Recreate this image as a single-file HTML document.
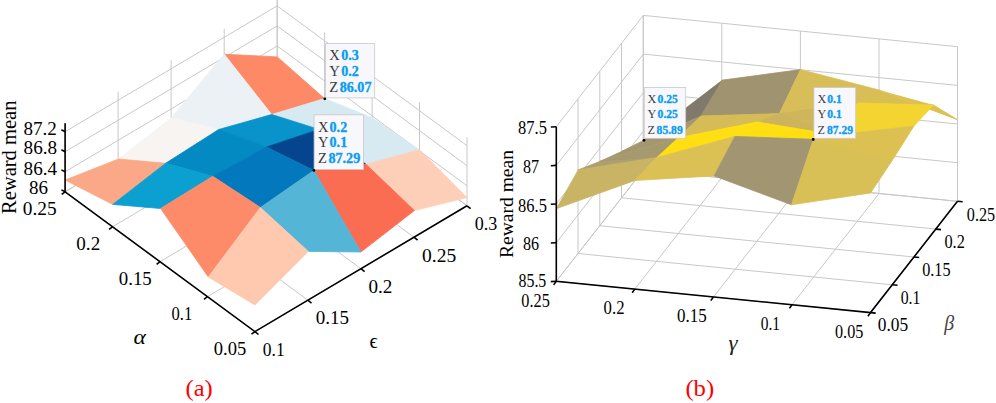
<!DOCTYPE html>
<html><head><meta charset="utf-8"><style>
html,body{margin:0;padding:0;background:#fff;}
svg{display:block;}
text{font-family:"Liberation Serif",serif;fill-opacity:1;}
</style></head><body>
<svg width="996" height="403" viewBox="0 0 996 403">
<rect width="996" height="403" fill="#fff"/>
<g stroke="#c8c8c8" stroke-width="1.0" fill="none">
<line x1="65.1" y1="191.8" x2="65.1" y2="123.2"/>
<line x1="467.0" y1="205.8" x2="467.0" y2="137.2"/>
<line x1="118.1" y1="160.4" x2="118.1" y2="91.7"/>
<line x1="419.5" y1="170.9" x2="419.5" y2="102.2"/>
<line x1="171.1" y1="128.9" x2="171.1" y2="60.3"/>
<line x1="372.1" y1="135.9" x2="372.1" y2="67.3"/>
<line x1="224.2" y1="97.5" x2="224.2" y2="28.8"/>
<line x1="324.6" y1="100.9" x2="324.6" y2="32.3"/>
<line x1="277.2" y1="66.0" x2="277.2" y2="-2.6"/>
<line x1="277.2" y1="66.0" x2="277.2" y2="-2.6"/>
<line x1="65.1" y1="191.8" x2="277.2" y2="66.0"/>
<line x1="277.2" y1="66.0" x2="467.0" y2="205.8"/>
<line x1="65.1" y1="171.8" x2="277.2" y2="46.0"/>
<line x1="277.2" y1="46.0" x2="467.0" y2="185.8"/>
<line x1="65.1" y1="151.7" x2="277.2" y2="25.9"/>
<line x1="277.2" y1="25.9" x2="467.0" y2="165.7"/>
<line x1="65.1" y1="131.7" x2="277.2" y2="5.9"/>
<line x1="277.2" y1="5.9" x2="467.0" y2="145.7"/>
<line x1="254.9" y1="331.6" x2="467.0" y2="205.8"/>
<line x1="254.9" y1="331.6" x2="65.1" y2="191.8"/>
<line x1="207.4" y1="296.7" x2="419.5" y2="170.9"/>
<line x1="307.9" y1="300.2" x2="118.1" y2="160.4"/>
<line x1="160.0" y1="261.7" x2="372.1" y2="135.9"/>
<line x1="360.9" y1="268.7" x2="171.1" y2="128.9"/>
<line x1="112.5" y1="226.8" x2="324.6" y2="100.9"/>
<line x1="414.0" y1="237.2" x2="224.2" y2="97.5"/>
<line x1="65.1" y1="191.8" x2="277.2" y2="66.0"/>
<line x1="467.0" y1="205.8" x2="277.2" y2="66.0"/>
</g>
<g stroke-linejoin="round">
<polygon points="271.7,114.5 324.6,98.6 277.3,56.9 224.2,54.2" fill="#fe8967" stroke="#fe8967" stroke-width="0.8"/>
<polygon points="218.7,129.5 271.7,114.5 224.2,54.2 171.3,118.0" fill="#ebf1f4" stroke="#ebf1f4" stroke-width="0.8"/>
<polygon points="319.2,129.4 372.4,118.0 324.6,98.6 271.7,114.5" fill="#d7e9f1" stroke="#d7e9f1" stroke-width="0.8"/>
<polygon points="165.6,163.3 218.7,129.5 171.3,118.0 118.5,159.0" fill="#f7f4f2" stroke="#f7f4f2" stroke-width="0.8"/>
<polygon points="266.5,147.0 319.2,129.4 271.7,114.5 218.7,129.5" fill="#0893cb" stroke="#0893cb" stroke-width="0.8"/>
<polygon points="366.0,164.3 419.5,149.8 372.4,118.0 319.2,129.4" fill="#d7e9f1" stroke="#d7e9f1" stroke-width="0.8"/>
<polygon points="112.7,204.4 165.6,163.3 118.5,159.0 65.1,180.0" fill="#fba888" stroke="#fba888" stroke-width="0.8"/>
<polygon points="212.8,176.3 266.5,147.0 218.7,129.5 165.6,163.3" fill="#038ac2" stroke="#038ac2" stroke-width="0.8"/>
<polygon points="313.9,170.4 366.0,164.3 319.2,129.4 266.5,147.0" fill="#05458d" stroke="#05458d" stroke-width="0.8"/>
<polygon points="414.4,210.5 467.0,197.6 419.5,149.8 366.0,164.3" fill="#fecfb8" stroke="#fecfb8" stroke-width="0.8"/>
<polygon points="160.6,208.5 212.8,176.3 165.6,163.3 112.7,204.4" fill="#0ca0d0" stroke="#0ca0d0" stroke-width="0.8"/>
<polygon points="260.4,207.5 313.9,170.4 266.5,147.0 212.8,176.3" fill="#0478bc" stroke="#0478bc" stroke-width="0.8"/>
<polygon points="360.9,252.0 414.4,210.5 366.0,164.3 313.9,170.4" fill="#fa6d52" stroke="#fa6d52" stroke-width="0.8"/>
<polygon points="208.3,276.9 260.4,207.5 212.8,176.3 160.6,208.5" fill="#fd8a69" stroke="#fd8a69" stroke-width="0.8"/>
<polygon points="308.3,251.4 360.9,252.0 313.9,170.4 260.4,207.5" fill="#54b5d6" stroke="#54b5d6" stroke-width="0.8"/>
<polygon points="254.9,304.9 308.3,251.4 260.4,207.5 208.3,276.9" fill="#fec9ae" stroke="#fec9ae" stroke-width="0.8"/>
</g>
<polyline points="65.1,123.2 65.1,191.8 254.9,331.6 467.0,205.8" stroke="#000" stroke-width="1.6" fill="none" stroke-linecap="butt"/>
<line x1="65.1" y1="191.8" x2="61.4" y2="189.9" stroke="#000" stroke-width="1.6" fill="none" stroke-linecap="butt"/>
<line x1="65.1" y1="171.8" x2="61.4" y2="169.9" stroke="#000" stroke-width="1.6" fill="none" stroke-linecap="butt"/>
<line x1="65.1" y1="151.7" x2="61.4" y2="149.8" stroke="#000" stroke-width="1.6" fill="none" stroke-linecap="butt"/>
<line x1="65.1" y1="131.7" x2="61.4" y2="129.8" stroke="#000" stroke-width="1.6" fill="none" stroke-linecap="butt"/>
<line x1="254.9" y1="331.6" x2="251.5" y2="334.2" stroke="#000" stroke-width="1.6" fill="none" stroke-linecap="butt"/>
<line x1="207.4" y1="296.7" x2="204.0" y2="299.3" stroke="#000" stroke-width="1.6" fill="none" stroke-linecap="butt"/>
<line x1="160.0" y1="261.7" x2="156.6" y2="264.3" stroke="#000" stroke-width="1.6" fill="none" stroke-linecap="butt"/>
<line x1="112.5" y1="226.8" x2="109.1" y2="229.3" stroke="#000" stroke-width="1.6" fill="none" stroke-linecap="butt"/>
<line x1="65.1" y1="191.8" x2="61.7" y2="194.4" stroke="#000" stroke-width="1.6" fill="none" stroke-linecap="butt"/>
<line x1="254.9" y1="331.6" x2="258.5" y2="334.5" stroke="#000" stroke-width="1.6" fill="none" stroke-linecap="butt"/>
<line x1="307.9" y1="300.2" x2="311.5" y2="303.1" stroke="#000" stroke-width="1.6" fill="none" stroke-linecap="butt"/>
<line x1="360.9" y1="268.7" x2="364.6" y2="271.6" stroke="#000" stroke-width="1.6" fill="none" stroke-linecap="butt"/>
<line x1="414.0" y1="237.2" x2="417.6" y2="240.2" stroke="#000" stroke-width="1.6" fill="none" stroke-linecap="butt"/>
<line x1="467.0" y1="205.8" x2="470.6" y2="208.7" stroke="#000" stroke-width="1.6" fill="none" stroke-linecap="butt"/>
<text x="23.5" y="134.8" font-size="19.5" textLength="33.4" lengthAdjust="spacingAndGlyphs" >87.2</text>
<text x="23.6" y="154.4" font-size="19.5" textLength="33.5" lengthAdjust="spacingAndGlyphs" >86.8</text>
<text x="23.6" y="174.5" font-size="19.5" textLength="33.5" lengthAdjust="spacingAndGlyphs" >86.4</text>
<text x="29.1" y="194.0" font-size="19.5" textLength="19.0" lengthAdjust="spacingAndGlyphs" >86</text>
<text x="22.8" y="215.1" font-size="19.5" textLength="33.9" lengthAdjust="spacingAndGlyphs" >0.25</text>
<text x="76.3" y="250.3" font-size="19.5" textLength="23.9" lengthAdjust="spacingAndGlyphs" >0.2</text>
<text x="118.8" y="285.0" font-size="19.5" textLength="33.0" lengthAdjust="spacingAndGlyphs" >0.15</text>
<text x="171.5" y="319.6" font-size="19.5" textLength="20.7" lengthAdjust="spacingAndGlyphs" >0.1</text>
<text x="213.8" y="354.7" font-size="19.5" textLength="32.5" lengthAdjust="spacingAndGlyphs" >0.05</text>
<text x="262.8" y="355.5" font-size="19.5" textLength="21.9" lengthAdjust="spacingAndGlyphs" >0.1</text>
<text x="315.7" y="324.2" font-size="19.5" textLength="33.3" lengthAdjust="spacingAndGlyphs" >0.15</text>
<text x="368.4" y="293.3" font-size="19.5" textLength="23.9" lengthAdjust="spacingAndGlyphs" >0.2</text>
<text x="422.0" y="261.8" font-size="19.5" textLength="34.2" lengthAdjust="spacingAndGlyphs" >0.25</text>
<text x="474.8" y="229.8" font-size="19.5" textLength="22.6" lengthAdjust="spacingAndGlyphs" >0.3</text>
<text x="0" y="343.6" font-size="20" font-style="italic" transform="translate(133.4,0) scale(1.18,1)">&#x3b1;</text>
<text x="369.5" y="347.6" font-size="20">&#x3f5;</text>
<text transform="translate(15.5,214) rotate(-90)" font-size="20" textLength="113.5" lengthAdjust="spacingAndGlyphs">Reward mean</text>
<text x="185.6" y="396.0" font-size="23.8" fill="#ff0000" textLength="27.2" lengthAdjust="spacingAndGlyphs">(a)</text>
<g stroke="#c8c8c8" stroke-width="1.0" fill="none">
<line x1="556.3" y1="281.3" x2="556.3" y2="126.7"/>
<line x1="957.5" y1="201.3" x2="957.5" y2="46.7"/>
<line x1="578.0" y1="253.5" x2="578.0" y2="98.9"/>
<line x1="879.0" y1="193.5" x2="879.0" y2="38.9"/>
<line x1="599.8" y1="225.7" x2="599.8" y2="71.1"/>
<line x1="800.4" y1="185.7" x2="800.4" y2="31.1"/>
<line x1="621.5" y1="197.8" x2="621.5" y2="43.2"/>
<line x1="721.8" y1="177.8" x2="721.8" y2="23.2"/>
<line x1="643.3" y1="170.0" x2="643.3" y2="15.4"/>
<line x1="643.3" y1="170.0" x2="643.3" y2="15.4"/>
<line x1="556.3" y1="281.3" x2="643.3" y2="170.0"/>
<line x1="643.3" y1="170.0" x2="957.5" y2="201.3"/>
<line x1="556.3" y1="242.7" x2="643.3" y2="131.3"/>
<line x1="643.3" y1="131.3" x2="957.5" y2="162.7"/>
<line x1="556.3" y1="204.0" x2="643.3" y2="92.7"/>
<line x1="643.3" y1="92.7" x2="957.5" y2="124.0"/>
<line x1="556.3" y1="165.4" x2="643.3" y2="54.1"/>
<line x1="643.3" y1="54.1" x2="957.5" y2="85.4"/>
<line x1="556.3" y1="126.7" x2="643.3" y2="15.4"/>
<line x1="643.3" y1="15.4" x2="957.5" y2="46.7"/>
<line x1="870.5" y1="312.6" x2="957.5" y2="201.3"/>
<line x1="870.5" y1="312.6" x2="556.3" y2="281.3"/>
<line x1="792.0" y1="304.8" x2="879.0" y2="193.5"/>
<line x1="892.2" y1="284.8" x2="578.0" y2="253.5"/>
<line x1="713.4" y1="297.0" x2="800.4" y2="185.7"/>
<line x1="914.0" y1="257.0" x2="599.8" y2="225.7"/>
<line x1="634.8" y1="289.1" x2="721.8" y2="177.8"/>
<line x1="935.8" y1="229.1" x2="621.5" y2="197.8"/>
<line x1="556.3" y1="281.3" x2="643.3" y2="170.0"/>
<line x1="957.5" y1="201.3" x2="643.3" y2="170.0"/>
</g>
<g stroke-linejoin="round">
<polygon points="701.0,116.0 722.5,80.1 643.8,140.2 621.5,151.6" fill="#a89b70" stroke="#a89b70" stroke-width="0.8"/>
<polygon points="701.0,116.0 722.5,80.1 643.8,140.2" fill="#7f7a6b"/>
<polygon points="678.3,137.8 701.0,116.0 621.5,151.6 599.8,161.4" fill="#a49770" stroke="#a49770" stroke-width="0.8"/>
<polygon points="779.4,113.6 800.5,69.6 722.5,80.1 701.0,116.0" fill="#a09470" stroke="#a09470" stroke-width="0.8"/>
<polygon points="656.8,157.5 678.3,137.8 599.8,161.4 578.2,169.9" fill="#ada06f" stroke="#ada06f" stroke-width="0.8"/>
<polygon points="656.8,157.5 678.3,137.8 599.8,161.4" fill="#a69970"/>
<polygon points="757.3,122.0 779.4,113.6 701.0,116.0 678.3,137.8" fill="#d6bc56" stroke="#d6bc56" stroke-width="0.8"/>
<polygon points="857.2,103.0 879.0,90.0 800.5,69.6 779.4,113.6" fill="#d8be58" stroke="#d8be58" stroke-width="0.8"/>
<polygon points="634.8,180.5 656.8,157.5 578.2,169.9 556.5,208.6" fill="#c9b365" stroke="#c9b365" stroke-width="0.8"/>
<polygon points="734.9,136.4 757.3,122.0 678.3,137.8 656.8,157.5" fill="#ffdf12" stroke="#ffdf12" stroke-width="0.8"/>
<polygon points="835.5,135.0 857.2,103.0 779.4,113.6 757.3,122.0" fill="#ccb35c" stroke="#ccb35c" stroke-width="0.8"/>
<polygon points="835.5,135.0 857.2,103.0 779.4,113.6" fill="#d0b65b"/>
<polygon points="933.5,105.0 957.0,119.5 879.0,90.0 857.2,103.0" fill="#d9bf52" stroke="#d9bf52" stroke-width="0.8"/>
<polygon points="933.5,105.0 957.0,119.5 879.0,90.0" fill="#dcc150"/>
<polygon points="714.1,175.9 734.9,136.4 656.8,157.5 634.8,180.5" fill="#dbc155" stroke="#dbc155" stroke-width="0.8"/>
<polygon points="813.4,139.3 835.5,135.0 757.3,122.0 734.9,136.4" fill="#ffdf12" stroke="#ffdf12" stroke-width="0.8"/>
<polygon points="914.0,126.0 933.5,105.0 857.2,103.0 835.5,135.0" fill="#f3d431" stroke="#f3d431" stroke-width="0.8"/>
<polygon points="791.5,204.8 813.4,139.3 734.9,136.4 714.1,175.9" fill="#a29672" stroke="#a29672" stroke-width="0.8"/>
<polygon points="892.2,160.5 914.0,126.0 835.5,135.0 813.4,139.3" fill="#dcc152" stroke="#dcc152" stroke-width="0.8"/>
<polygon points="870.5,193.0 892.2,160.5 813.4,139.3 791.5,204.8" fill="#d8c057" stroke="#d8c057" stroke-width="0.8"/>
</g>
<polyline points="556.3,126.7 556.3,281.3 870.5,312.6 957.5,201.3" stroke="#000" stroke-width="1.6" fill="none" stroke-linecap="butt"/>
<line x1="556.3" y1="281.3" x2="550.8" y2="281.6" stroke="#000" stroke-width="1.6" fill="none" stroke-linecap="butt"/>
<line x1="556.3" y1="242.7" x2="550.8" y2="243.0" stroke="#000" stroke-width="1.6" fill="none" stroke-linecap="butt"/>
<line x1="556.3" y1="204.0" x2="550.8" y2="204.3" stroke="#000" stroke-width="1.6" fill="none" stroke-linecap="butt"/>
<line x1="556.3" y1="165.4" x2="550.8" y2="165.7" stroke="#000" stroke-width="1.6" fill="none" stroke-linecap="butt"/>
<line x1="556.3" y1="126.7" x2="550.8" y2="127.0" stroke="#000" stroke-width="1.6" fill="none" stroke-linecap="butt"/>
<line x1="870.5" y1="312.6" x2="867.9" y2="316.2" stroke="#000" stroke-width="1.6" fill="none" stroke-linecap="butt"/>
<line x1="792.0" y1="304.8" x2="789.4" y2="308.4" stroke="#000" stroke-width="1.6" fill="none" stroke-linecap="butt"/>
<line x1="713.4" y1="297.0" x2="710.8" y2="300.6" stroke="#000" stroke-width="1.6" fill="none" stroke-linecap="butt"/>
<line x1="634.8" y1="289.1" x2="632.2" y2="292.7" stroke="#000" stroke-width="1.6" fill="none" stroke-linecap="butt"/>
<line x1="556.3" y1="281.3" x2="553.7" y2="284.9" stroke="#000" stroke-width="1.6" fill="none" stroke-linecap="butt"/>
<line x1="870.5" y1="312.6" x2="875.7" y2="313.1" stroke="#000" stroke-width="1.6" fill="none" stroke-linecap="butt"/>
<line x1="892.2" y1="284.8" x2="897.5" y2="285.3" stroke="#000" stroke-width="1.6" fill="none" stroke-linecap="butt"/>
<line x1="914.0" y1="257.0" x2="919.2" y2="257.5" stroke="#000" stroke-width="1.6" fill="none" stroke-linecap="butt"/>
<line x1="935.8" y1="229.1" x2="941.0" y2="229.6" stroke="#000" stroke-width="1.6" fill="none" stroke-linecap="butt"/>
<line x1="957.5" y1="201.3" x2="962.7" y2="201.8" stroke="#000" stroke-width="1.6" fill="none" stroke-linecap="butt"/>
<text x="518.1" y="134.4" font-size="18.0" textLength="28.8" lengthAdjust="spacingAndGlyphs" >87.5</text>
<text x="522.9" y="172.8" font-size="18.0" textLength="16.1" lengthAdjust="spacingAndGlyphs" >87</text>
<text x="518.1" y="211.6" font-size="18.0" textLength="28.8" lengthAdjust="spacingAndGlyphs" >86.5</text>
<text x="522.9" y="250.3" font-size="18.0" textLength="16.1" lengthAdjust="spacingAndGlyphs" >86</text>
<text x="518.5" y="287.4" font-size="18.0" textLength="27.8" lengthAdjust="spacingAndGlyphs" >85.5</text>
<text x="521.3" y="306.6" font-size="18.0" textLength="28.5" lengthAdjust="spacingAndGlyphs" >0.25</text>
<text x="603.6" y="314.3" font-size="18.0" textLength="20.9" lengthAdjust="spacingAndGlyphs" >0.2</text>
<text x="677.0" y="322.4" font-size="18.0" textLength="29.7" lengthAdjust="spacingAndGlyphs" >0.15</text>
<text x="760.7" y="329.8" font-size="18.0" textLength="19.3" lengthAdjust="spacingAndGlyphs" >0.1</text>
<text x="835.0" y="338.2" font-size="18.0" textLength="28.3" lengthAdjust="spacingAndGlyphs" >0.05</text>
<text x="877.8" y="330.5" font-size="18.0" textLength="30.4" lengthAdjust="spacingAndGlyphs" >0.05</text>
<text x="900.7" y="303.6" font-size="18.0" textLength="19.7" lengthAdjust="spacingAndGlyphs" >0.1</text>
<text x="922.2" y="275.8" font-size="18.0" textLength="28.4" lengthAdjust="spacingAndGlyphs" >0.15</text>
<text x="944.4" y="247.8" font-size="18.0" textLength="20.4" lengthAdjust="spacingAndGlyphs" >0.2</text>
<text x="966.8" y="220.6" font-size="18.0" textLength="28.3" lengthAdjust="spacingAndGlyphs" >0.25</text>
<text x="0" y="330.0" font-size="20.5" font-style="italic" fill="#444" transform="translate(944.2,0) scale(0.97,1)">&#x3b2;</text>
<text x="0" y="350.3" font-size="20" font-style="italic" fill="#222" transform="translate(728.6,0) scale(1.15,1)">&#x3b3;</text>
<text transform="translate(512.9,258) rotate(-90)" font-size="18" textLength="108" lengthAdjust="spacingAndGlyphs">Reward mean</text>
<text x="685.4" y="396.0" font-size="23.8" fill="#ff0000" textLength="28.8" lengthAdjust="spacingAndGlyphs">(b)</text>
<rect x="325.6" y="43.6" width="49.1" height="54.3" fill="#f8f8fc" stroke="#c9c9c9" stroke-width="0.8"/>
<text x="0" y="59.9" font-size="14.3" fill="#3a3a3a" transform="translate(329.2,0) scale(1.020,1)">X</text>
<text x="0" y="59.9" font-size="14.8" font-weight="bold" fill="#0a9cf0" stroke="#0a9cf0" stroke-width="0.35" transform="translate(341.3,0) scale(0.950,1)">0.3</text>
<text x="0" y="76.0" font-size="14.3" fill="#3a3a3a" transform="translate(329.2,0) scale(1.020,1)">Y</text>
<text x="0" y="76.0" font-size="14.8" font-weight="bold" fill="#0a9cf0" stroke="#0a9cf0" stroke-width="0.35" transform="translate(341.3,0) scale(0.950,1)">0.2</text>
<text x="0" y="92.0" font-size="14.3" fill="#3a3a3a" transform="translate(329.2,0) scale(1.020,1)">Z</text>
<text x="0" y="92.0" font-size="14.8" font-weight="bold" fill="#0a9cf0" stroke="#0a9cf0" stroke-width="0.35" transform="translate(339.7,0) scale(0.955,1)">86.07</text>
<circle cx="324.8" cy="98.8" r="1.4" fill="#000"/>
<rect x="314.1" y="114.8" width="49.4" height="54.7" fill="#f8f8fc" stroke="#c9c9c9" stroke-width="0.8"/>
<text x="0" y="131.6" font-size="14.3" fill="#3a3a3a" transform="translate(318.1,0) scale(1.020,1)">X</text>
<text x="0" y="131.6" font-size="14.8" font-weight="bold" fill="#0a9cf0" stroke="#0a9cf0" stroke-width="0.35" transform="translate(329.6,0) scale(0.950,1)">0.2</text>
<text x="0" y="147.3" font-size="14.3" fill="#3a3a3a" transform="translate(318.1,0) scale(1.020,1)">Y</text>
<text x="0" y="147.3" font-size="14.8" font-weight="bold" fill="#0a9cf0" stroke="#0a9cf0" stroke-width="0.35" transform="translate(329.6,0) scale(0.950,1)">0.1</text>
<text x="0" y="163.1" font-size="14.3" fill="#3a3a3a" transform="translate(318.1,0) scale(1.020,1)">Z</text>
<text x="0" y="163.1" font-size="14.8" font-weight="bold" fill="#0a9cf0" stroke="#0a9cf0" stroke-width="0.35" transform="translate(328.4,0) scale(0.955,1)">87.29</text>
<circle cx="313.9" cy="170.4" r="1.4" fill="#000"/>
<rect x="644.3" y="87.5" width="41.4" height="50.8" fill="#f8f8fc" stroke="#c9c9c9" stroke-width="0.8"/>
<text x="0" y="102.7" font-size="12.6" fill="#3a3a3a" transform="translate(647.6,0) scale(0.970,1)">X</text>
<text x="0" y="102.7" font-size="12.9" font-weight="bold" fill="#0a9cf0" stroke="#0a9cf0" stroke-width="0.35" transform="translate(657.6,0) scale(0.900,1)">0.25</text>
<text x="0" y="118.4" font-size="12.6" fill="#3a3a3a" transform="translate(647.6,0) scale(0.970,1)">Y</text>
<text x="0" y="118.4" font-size="12.9" font-weight="bold" fill="#0a9cf0" stroke="#0a9cf0" stroke-width="0.35" transform="translate(657.6,0) scale(0.900,1)">0.25</text>
<text x="0" y="134.0" font-size="12.6" fill="#3a3a3a" transform="translate(647.6,0) scale(0.970,1)">Z</text>
<text x="0" y="134.0" font-size="12.9" font-weight="bold" fill="#0a9cf0" stroke="#0a9cf0" stroke-width="0.35" transform="translate(656.6,0) scale(0.900,1)">85.89</text>
<circle cx="644.0" cy="140.3" r="1.4" fill="#000"/>
<rect x="813.9" y="87.5" width="41.8" height="50.8" fill="#f8f8fc" stroke="#c9c9c9" stroke-width="0.8"/>
<text x="0" y="102.7" font-size="12.6" fill="#3a3a3a" transform="translate(817.6,0) scale(0.970,1)">X</text>
<text x="0" y="102.7" font-size="12.9" font-weight="bold" fill="#0a9cf0" stroke="#0a9cf0" stroke-width="0.35" transform="translate(827.2,0) scale(0.900,1)">0.1</text>
<text x="0" y="118.4" font-size="12.6" fill="#3a3a3a" transform="translate(817.6,0) scale(0.970,1)">Y</text>
<text x="0" y="118.4" font-size="12.9" font-weight="bold" fill="#0a9cf0" stroke="#0a9cf0" stroke-width="0.35" transform="translate(827.2,0) scale(0.900,1)">0.1</text>
<text x="0" y="134.0" font-size="12.6" fill="#3a3a3a" transform="translate(817.6,0) scale(0.970,1)">Z</text>
<text x="0" y="134.0" font-size="12.9" font-weight="bold" fill="#0a9cf0" stroke="#0a9cf0" stroke-width="0.35" transform="translate(826.9,0) scale(0.900,1)">87.29</text>
<circle cx="813.2" cy="139.5" r="1.4" fill="#000"/>
</svg></body></html>
